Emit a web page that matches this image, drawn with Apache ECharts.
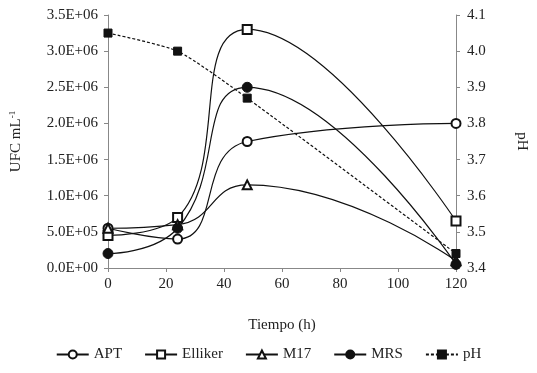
<!DOCTYPE html>
<html><head><meta charset="utf-8">
<script src="https://cdn.jsdelivr.net/npm/echarts@6/dist/echarts.min.js"></script>
<style>html,body{margin:0;padding:0;background:#fff}#c{width:537px;height:373px}</style>
</head><body><div id="c"></div>
<script>
var hours = [0, 24, 48, 120];
var apt = [550000, 400000, 1750000, 2000000];
var elliker = [450000, 700000, 3300000, 650000];
var m17 = [550000, 600000, 1150000, 100000];
var mrs = [200000, 550000, 2500000, 50000];
var ph = [4.05, 4.00, 3.87, 3.44];
var ufcTickLabels = ['0.0E+00','5.0E+05','1.0E+06','1.5E+06','2.0E+06','2.5E+06','3.0E+06','3.5E+06'];

function pts(arr){ return hours.map(function(h,i){ return [h, arr[i]]; }); }
var font = 'Liberation Serif';
var fs = 15;
var axisCommon = {
  axisLine:{show:true, lineStyle:{color:'#888', width:1}},
  axisTick:{show:true, length:4, lineStyle:{color:'#888'}},
  splitLine:{show:false},
  axisLabel:{color:'#222', fontFamily:font, fontSize:fs},
  nameTextStyle:{color:'#222', fontFamily:font, fontSize:fs}
};
function ser(name, data, symbol, size, yIdx, dashed, smooth){
  return {
    name:name, type:'line', data:pts(data), yAxisIndex:yIdx,
    symbol:symbol, symbolSize:size, smooth:smooth,
    lineStyle:{color:'#111', width:1.2, type: dashed ? [3,2] : 'solid'},
    itemStyle:{color:'#111', borderColor:'#111', borderWidth:1},
    emphasis:{disabled:true}
  };
}
var chart = echarts.init(document.getElementById('c'));
chart.setOption({
  animation:false,
  grid:{left:107, right:81, top:15, bottom:105},
  xAxis:Object.assign({}, axisCommon, {
    type:'value', min:0, max:120, interval:20,
    name:'Tiempo (h)', nameLocation:'middle', nameGap:50,
    axisLabel:Object.assign({}, axisCommon.axisLabel, {margin:9})
  }),
  yAxis:[
    Object.assign({}, axisCommon, {
      type:'value', min:0, max:3500000, interval:500000, position:'left',
      name:'{a|UFC mL}{b|-1}', nameLocation:'middle', nameGap:84, nameRotate:90,
      nameTextStyle:{rich:{a:{fontFamily:font, fontSize:fs, color:'#222'}, b:{fontFamily:font, fontSize:9, color:'#222', verticalAlign:'top', padding:[0,0,7,0]}}},
      axisLabel:Object.assign({}, axisCommon.axisLabel, {margin:10, formatter:function(v){ return ufcTickLabels[Math.round(v/500000)]; }})
    }),
    Object.assign({}, axisCommon, {
      type:'value', min:3.4, max:4.1, interval:0.1, position:'right',
      name:'pH', nameLocation:'middle', nameGap:58, nameRotate:-90,
      axisLabel:Object.assign({}, axisCommon.axisLabel, {margin:11, formatter:function(v){ return v.toFixed(1); }})
    })
  ],
  legend:{
    bottom:6, left:'center', itemWidth:32, itemHeight:10, itemGap:22,
    textStyle:{fontFamily:font, fontSize:fs, color:'#222'},
    data:['APT','Elliker','M17','MRS','pH']
  },
  series:[
    ser('APT', apt, 'emptyCircle', 9, 0, false, 0.5),
    ser('Elliker', elliker, 'emptyRect', 9, 0, false, 0.5),
    ser('M17', m17, 'emptyTriangle', 9, 0, false, 0.5),
    ser('MRS', mrs, 'circle', 10, 0, false, 0.5),
    ser('pH', ph, 'rect', 8, 1, true, 0.2)
  ]
});
</script></body></html>
